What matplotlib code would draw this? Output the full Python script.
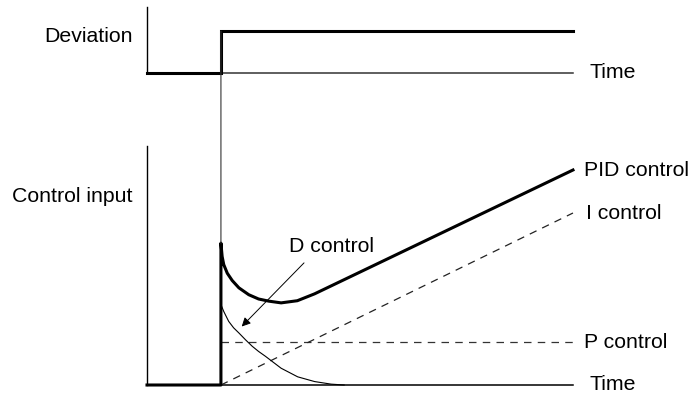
import matplotlib
matplotlib.use("Agg")
import matplotlib.pyplot as plt
from matplotlib.patches import ConnectionPatch

plt.rcParams['font.family'] = ['Liberation Sans', 'DejaVu Sans']

# ---- data ----
t_dev = [-2.1, 0.0, 0.0, 10.0]
dev = [0.0, 0.0, 1.0, 1.0]

t_pid = [-2.1, 0.0, 0.0, 0.034, 0.08, 0.18, 0.32, 0.51, 0.79, 1.07, 1.36,
         1.71, 2.17, 2.66, 10.0]
v_pid = [0.0, 0.0, 3.30, 2.99, 2.80, 2.60, 2.43, 2.26, 2.10, 2.00, 1.95,
         1.91, 1.96, 2.12, 5.0]

t_d = [0.0, 0.08, 0.22, 0.36, 0.51, 0.70, 0.89, 1.07, 1.26, 1.71, 2.18,
       2.66, 3.13, 3.5]
v_d = [1.87, 1.71, 1.48, 1.33, 1.21, 1.05, 0.90, 0.78, 0.67, 0.39, 0.19,
       0.08, 0.02, 0.0]

t_p = [0.0, 10.0]
v_p = [1.0, 1.0]

t_i = [0.0, 10.0]
v_i = [0.0, 4.0]

t_axis = [0.0, 10.0]

W, H = 689, 396
fig = plt.figure(figsize=(W / 100, H / 100), dpi=100)

x0, x1 = 147 / W, 661 / W
ax_top = fig.add_axes([x0, (H - 73) / H, x1 - x0, (73 - 7) / H])
ax_bot = fig.add_axes([x0, (H - 385) / H, x1 - x0, (385 - 146) / H])

XL = (-2.1, 12.5)
ax_top.set_xlim(*XL)
ax_top.set_ylim(0, 66 / 42)
ax_bot.set_xlim(*XL)
ax_bot.set_ylim(0, 239 / 43)
for ax in (ax_top, ax_bot):
    ax.axis('off')

fs = 15.3
thin = 0.8
thick = 2.2

# ---- top panel ----
ax_top.plot([XL[0], XL[0]], [0, 66 / 42], color='k', lw=1.0, clip_on=False)
ax_top.plot(t_axis, [0, 0], color='#333333', lw=1.1, clip_on=False)
ax_top.plot(t_dev, dev, color='k', lw=thick, solid_joinstyle='miter',
            clip_on=False)
ax_top.text(10.48, 0, "Time", fontsize=fs, ha='left', va='center')
fig.text(133 / W, 1 - 36 / H, "Deviation", fontsize=fs, ha='right', va='center')

# ---- bottom panel ----
ax_bot.plot([XL[0], XL[0]], [0, 239 / 43], color='k', lw=1.0, clip_on=False)
ax_bot.plot(t_axis, [0, 0], color='k', lw=1.1, clip_on=False)
ax_bot.plot(t_p, v_p, color='#333333', lw=0.9, dashes=(6, 5), clip_on=False)
ax_bot.plot(t_i, v_i, color='#222222', lw=0.9, dashes=(6, 5), clip_on=False)
ax_bot.plot(t_d, v_d, color='k', lw=thin, solid_joinstyle='round',
            clip_on=False)
ax_bot.plot(t_pid, v_pid, color='k', lw=thick, solid_joinstyle='round',
            clip_on=False)

ax_bot.text(10.31, 5.0, "PID control", fontsize=fs, ha='left', va='center')
ax_bot.text(10.37, 4.0, "I control", fontsize=fs, ha='left', va='center')
ax_bot.text(10.31, 1.0, "P control", fontsize=fs, ha='left', va='center')
ax_bot.text(10.48, 0.0, "Time", fontsize=fs, ha='left', va='center')
ax_bot.text(1.93, 3.21, "D control", fontsize=fs, ha='left', va='center')
fig.text(132 / W, 1 - 196 / H, "Control input", fontsize=fs, ha='right',
         va='center')

ax_bot.annotate("", xy=(0.59, 1.36), xytext=(2.36, 2.84),
                arrowprops=dict(arrowstyle='-|>', color='k', lw=0.7,
                                mutation_scale=13, shrinkA=0, shrinkB=0))

# thin connector from the deviation step down to the control input jump
con = ConnectionPatch(xyA=(0.0, 1.0), coordsA=ax_top.transData,
                      xyB=(0.0, v_pid[2]), coordsB=ax_bot.transData,
                      color='#333333', lw=0.8)
fig.add_artist(con)

fig.savefig("out.png", dpi=100)
